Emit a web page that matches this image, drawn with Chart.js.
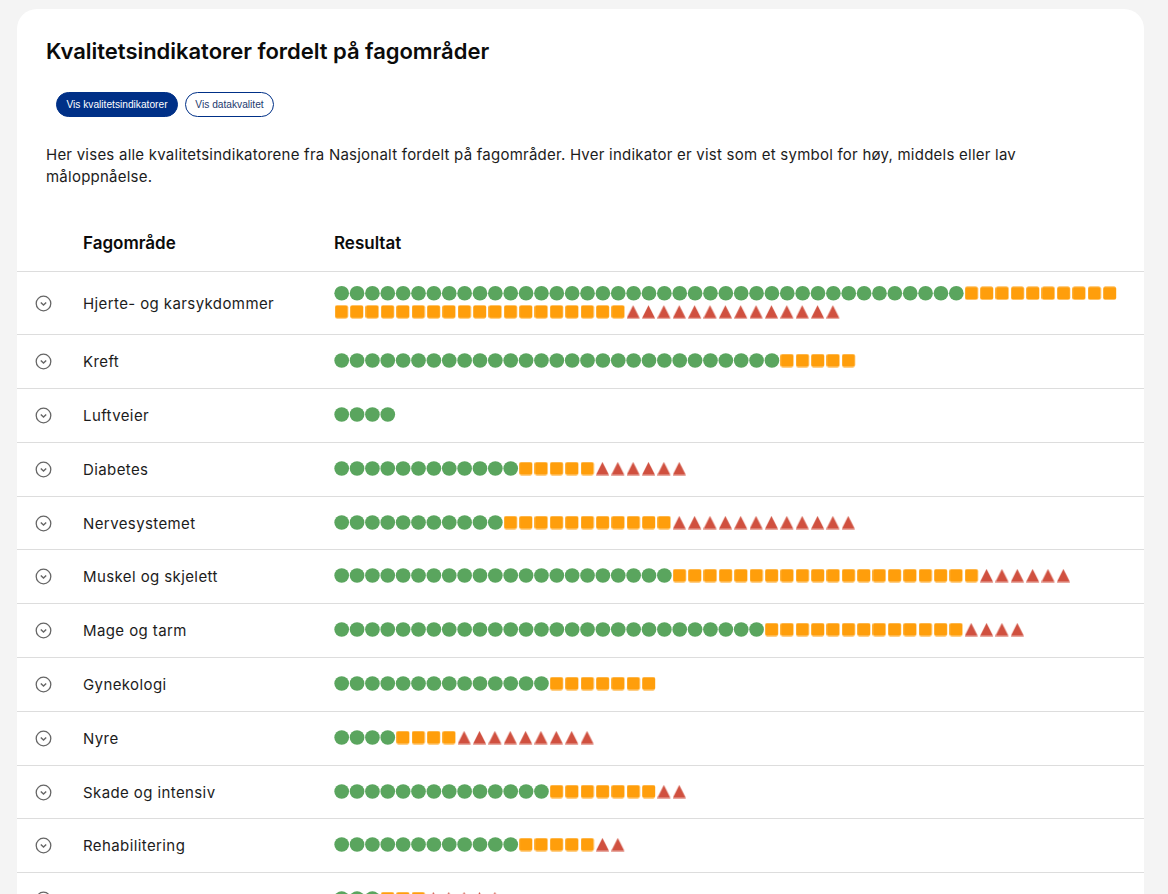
<!DOCTYPE html>
<html lang="no">
<head>
<meta charset="utf-8">
<title>Kvalitetsindikatorer fordelt på fagområder</title>
<script src="https://cdn.jsdelivr.net/npm/chart.js@4"></script>
<style>
    * { box-sizing: border-box; }
    html, body { margin: 0; height: 894px; overflow: hidden; background: #f4f4f4; }
    body { font-family: Inter, "Open Sans", sans-serif; color: #1c1c1c; }
    .card { position: absolute; left: 17px; top: 9px; width: 1127px; height: 960px; background: #fff; border-radius: 20px 20px 0 0; }
    h1 { position: absolute; left: 29px; top: 27px; margin: 0; font-size: 22px; line-height: 30px; font-weight: 600; color: #0b0b0b; white-space: nowrap; letter-spacing: -0.03px; }
    .btn { position: absolute; top: 83px; height: 25px; border-radius: 13px; border: 1px solid #003087; font: 10.2px/23px "Liberation Sans", sans-serif; text-align: center; }
    .btn.on { left: 39px; width: 122px; background: #003087; color: #fff; }
    .btn.off { left: 168px; width: 89px; background: #fff; color: #1d3a6e; }
    .intro { position: absolute; left: 29px; top: 135px; width: 1000px; margin: 0; font-size: 15px; line-height: 22px; font-weight: 400; letter-spacing: 0.235px; }
    .head { position: absolute; top: 224px; font-size: 17px; line-height: 20px; font-weight: 600; color: #0b0b0b; }
    #rows { position: absolute; left: 0; top: 262px; width: 100%; }
    .row { position: relative; height: 53.8px; border-top: 1px solid #dddddd; display: flex; align-items: center; }
    .row.wide { height: 63.3px; }
    .row svg { position: absolute; left: 18px; }
    .row span { position: absolute; left: 66px; font-size: 15px; letter-spacing: 0.4px; white-space: nowrap; }
    .row canvas { position: absolute; left: 317px; top: 16px; }
    .row.wide canvas { top: 12px; }
</style>
</head>
<body>
<div class="card">
    <h1>Kvalitetsindikatorer fordelt på fagområder</h1>
    <div class="btn on">Vis kvalitetsindikatorer</div>
    <div class="btn off">Vis datakvalitet</div>
    <p class="intro">Her vises alle kvalitetsindikatorene fra Nasjonalt fordelt på fagområder. Hver indikator er vist som et symbol for høy, middels eller lav måloppnåelse.</p>
    <div class="head" style="left:66px">Fagområde</div>
    <div class="head" style="left:317px">Resultat</div>
    <div id="rows"></div>
</div>

<script>
// last label is cut off by the bottom edge of the picture and cannot be read
const categories = ['Hjerte- og karsykdommer', 'Kreft', 'Luftveier', 'Diabetes', 'Nervesystemet', 'Muskel og skjelett', 'Mage og tarm', 'Gynekologi', 'Nyre', 'Skade og intensiv', 'Rehabilitering', ''];
const highCounts = [41, 29, 4, 12, 11, 22, 28, 14, 4, 14, 12, 3];
const middleCounts = [29, 5, 0, 5, 11, 20, 13, 7, 4, 7, 5, 3];
const lowCounts = [14, 0, 0, 6, 12, 6, 4, 0, 9, 2, 2, 5];

const perLine = 51;
const lineHeight = 18.5;

const green = '#5aa55e';
const orange = '#ff9e0b';
const red = '#d0503f';

function makeIcon(draw) {
    const icon = document.createElement('canvas');
    icon.width = 14;
    icon.height = 14;
    const ctx = icon.getContext('2d');
    ctx.beginPath();
    draw(ctx);
    ctx.fill();
    return icon;
}

const squareIcon = makeIcon(function(ctx) {
    ctx.fillStyle = orange;
    ctx.roundRect(0.2, 0.5, 13, 13, 2);
});

const triangleIcon = makeIcon(function(ctx) {
    ctx.fillStyle = red;
    ctx.moveTo(6.5, 0.5);
    ctx.lineTo(13.1, 13.5);
    ctx.lineTo(0, 13.5);
    ctx.closePath();
});

// walks through the slots of a row and wraps to a new line after perLine symbols
function slotPoints(start, count) {
    const points = [];
    for (let i = start; i < start + count; i++) {
        points.push({ x: i % perLine, y: Math.floor(i / perLine) });
    }
    return points;
}

const chevron = '<svg width="17" height="17" viewBox="0 0 17 17"><circle cx="8.5" cy="8.5" r="7.3" fill="none" stroke="#666" stroke-width="1.3"/><path d="M5.8 7.4 L8.5 10 L11.2 7.4" fill="none" stroke="#666" stroke-width="1.4"/></svg>';

const rowsDiv = document.getElementById('rows');

categories.forEach(function(name, index) {
    const total = highCounts[index] + middleCounts[index] + lowCounts[index];
    const lines = Math.ceil(total / perLine);

    const row = document.createElement('div');
    row.className = lines > 1 ? 'row wide' : 'row';
    row.innerHTML = chevron + '<span></span><canvas></canvas>';
    row.querySelector('span').textContent = name;
    rowsDiv.appendChild(row);

    const canvas = row.querySelector('canvas');
    canvas.width = 799;
    canvas.height = Math.round(lines * lineHeight);
    canvas.style.width = canvas.width + 'px';
    canvas.style.height = canvas.height + 'px';

    new Chart(canvas, {
        type: 'scatter',
        data: {
            datasets: [
                { label: 'Høy', data: slotPoints(0, highCounts[index]), pointStyle: 'circle', pointRadius: 7.35, pointHoverRadius: 7.35, backgroundColor: green, borderWidth: 0, clip: false },
                { label: 'Middels', data: slotPoints(highCounts[index], middleCounts[index]), pointStyle: squareIcon, pointRadius: 7, pointHoverRadius: 7, backgroundColor: orange, borderWidth: 0, clip: false },
                { label: 'Lav', data: slotPoints(highCounts[index] + middleCounts[index], lowCounts[index]), pointStyle: triangleIcon, pointRadius: 7, pointHoverRadius: 7, backgroundColor: red, borderWidth: 0, clip: false }
            ]
        },
        options: {
            responsive: false,
            animation: false,
            devicePixelRatio: 1,
            layout: { padding: 0, autoPadding: false },
            plugins: { legend: { display: false } },
            scales: {
                x: { type: 'linear', display: false, min: -0.5, max: 51.5 },
                y: { type: 'linear', display: false, reverse: true, min: -0.5, max: lines - 0.5 }
            }
        }
    });
});
</script>
</body>
</html>
